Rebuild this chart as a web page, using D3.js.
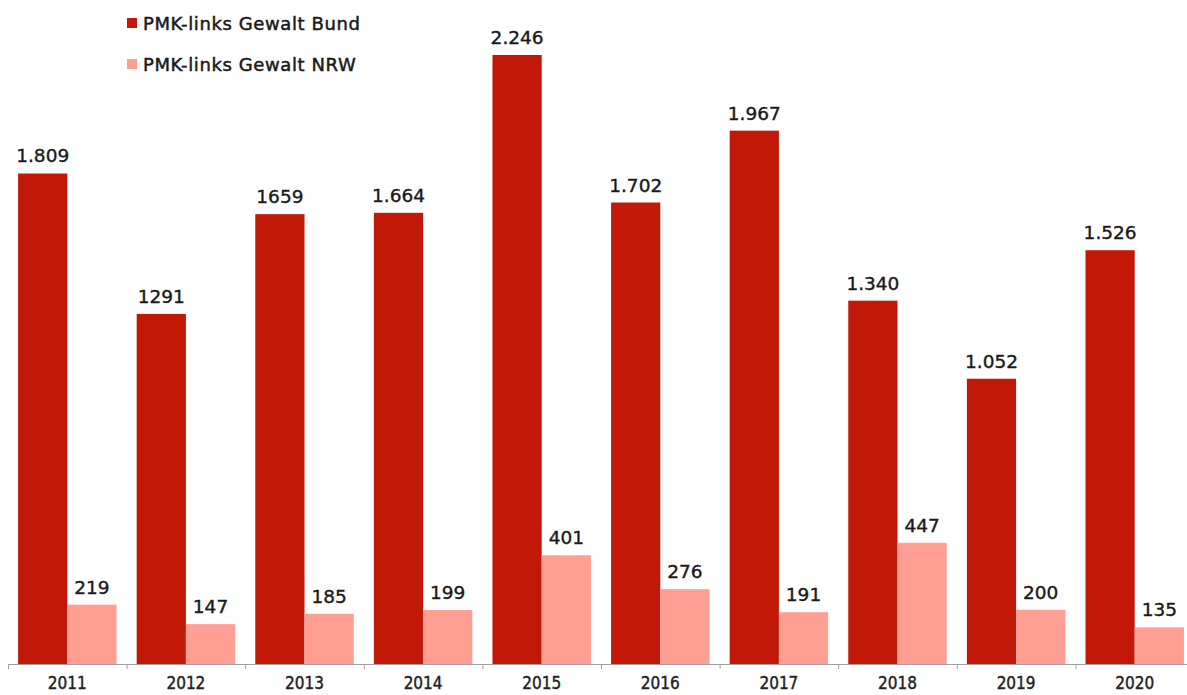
<!DOCTYPE html>
<meta charset="utf-8">
<head>
<script src="https://d3js.org/d3.v7.min.js"></script>
<style>
  body { margin: 0; background: #fff; }
  text { font-family: "DejaVu Sans", sans-serif; }
</style>
</head>
<body>
<svg width="1187" height="695"></svg>
<script>
var years = ["2011","2012","2013","2014","2015","2016","2017","2018","2019","2020"];
var bund = [1809, 1291, 1659, 1664, 2246, 1702, 1967, 1340, 1052, 1526];
var nrw = [219, 147, 185, 199, 401, 276, 191, 447, 200, 135];
var bundLabels = ["1.809","1291","1659","1.664","2.246","1.702","1.967","1.340","1.052","1.526"];
var nrwLabels = ["219","147","185","199","401","276","191","447","200","135"];
var seriesNames = ["PMK-links Gewalt Bund", "PMK-links Gewalt NRW"];
var colors = ["#c21807", "#ff9f94"];

var svg = d3.select("svg");

var x0 = d3.scaleBand()
    .domain(years)
    .range([8, 1194])
    .paddingInner(0.17)
    .paddingOuter(0.085);

var x1 = d3.scaleBand()
    .domain([0, 1])
    .range([0, x0.bandwidth()]);

var y = d3.scaleLinear()
    .domain([0, 2246])
    .range([664, 55]);

var rows = years.map(function(yr, i) {
  return {year: yr, vals: [
    {k: 0, v: bund[i], label: bundLabels[i]},
    {k: 1, v: nrw[i], label: nrwLabels[i]}
  ]};
});

var groups = svg.append("g")
  .selectAll("g")
  .data(rows)
  .enter().append("g")
  .attr("transform", function(d) { return "translate(" + x0(d.year) + ",0)"; });

groups.selectAll("rect")
  .data(function(d) { return d.vals; })
  .enter().append("rect")
  .attr("x", function(d) { return x1(d.k); })
  .attr("y", function(d) { return y(d.v); })
  .attr("width", x1.bandwidth())
  .attr("height", function(d) { return y(0) - y(d.v); })
  .attr("fill", function(d) { return colors[d.k]; });

groups.selectAll("text")
  .data(function(d) { return d.vals; })
  .enter().append("text")
  .attr("x", function(d) { return x1(d.k) + x1.bandwidth() / 2; })
  .attr("y", function(d) { return y(d.v) - 11; })
  .attr("text-anchor", "middle")
  .attr("font-size", 18.5)
  .attr("fill", "#1a1a1a")
  .attr("stroke", "#1a1a1a")
  .attr("stroke-width", 0.4)
  .text(function(d) { return d.label; });

// axis with ticks at category boundaries
var step = x0.step();
var axis = svg.append("g");
axis.append("line")
  .attr("x1", 8).attr("x2", 1187)
  .attr("y1", 664.5).attr("y2", 664.5)
  .attr("stroke", "#a0a0a0").attr("stroke-width", 1.2);
axis.selectAll("line.tick")
  .data(d3.range(years.length + 1))
  .enter().append("line")
  .attr("class", "tick")
  .attr("x1", function(i) { return 8.5 + i * step; })
  .attr("x2", function(i) { return 8.5 + i * step; })
  .attr("y1", 664).attr("y2", 669)
  .attr("stroke", "#a0a0a0");
axis.selectAll("text")
  .data(years)
  .enter().append("text")
  .attr("x", function(d) { return x0(d) + x0.bandwidth() / 2; })
  .attr("y", 689)
  .attr("text-anchor", "middle")
  .attr("font-size", 17)
  .style("font-family", "'DejaVu Sans Condensed', 'DejaVu Sans', sans-serif")
  .attr("fill", "#222")
  .attr("stroke", "#222")
  .attr("stroke-width", 0.4)
  .text(function(d) { return d; });

// legend
var legend = svg.append("g")
  .selectAll("g")
  .data(seriesNames)
  .enter().append("g")
  .attr("transform", function(d, i) { return "translate(127," + (18 + i * 41) + ")"; });

legend.append("rect")
  .attr("width", 10).attr("height", 10)
  .attr("fill", function(d, i) { return colors[i]; });

legend.append("text")
  .attr("x", 16)
  .attr("y", 11.5)
  .attr("font-size", 18)
  .attr("letter-spacing", 0.6)
  .attr("fill", "#1a1a1a")
  .attr("stroke", "#1a1a1a")
  .attr("stroke-width", 0.5)
  .text(function(d) { return d; });
</script>
</body>
